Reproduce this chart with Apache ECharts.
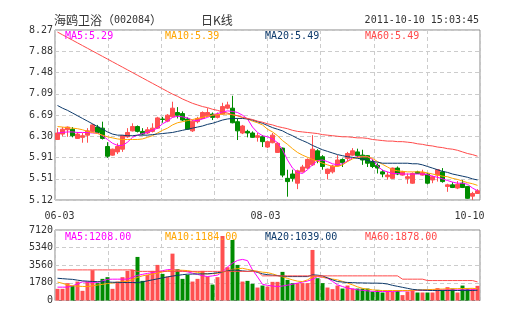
<!DOCTYPE html>
<html><head><meta charset="utf-8">
<script src="https://cdn.jsdelivr.net/npm/echarts/dist/echarts.min.js"></script>
<style>html,body{margin:0;padding:0;background:#fff}#c{width:505px;height:330px}</style>
</head><body><div id="c"></div>
<script>
const stockName = '海鸥卫浴';
const stockCode = '002084';
const chartTitle = '日K线';
const timestamp = '2011-10-10 15:03:45';

const dates = ['06-03','06-07','06-08','06-09','06-10','06-13','06-14','06-15','06-16','06-17','06-20','06-21','06-22','06-23','06-24','06-27','06-28','06-29','06-30',
'07-01','07-04','07-05','07-06','07-07','07-08','07-11','07-12','07-13','07-14','07-15','07-18','07-19','07-20','07-21','07-22','07-25','07-26','07-27','07-28','07-29',
'08-01','08-02','08-03','08-04','08-05','08-08','08-09','08-10','08-11','08-12','08-15','08-16','08-17','08-18','08-19','08-22','08-23','08-24','08-25','08-26','08-29','08-30','08-31',
'09-01','09-02','09-05','09-06','09-07','09-08','09-09','09-13','09-14','09-15','09-16','09-19','09-20','09-21','09-22','09-23','09-26','09-27','09-28','09-29','09-30',
'10-10'];
const shownDates = ['06-03','08-03','10-10'];

const openP  = [6.24,6.34,6.42,6.43,6.26,6.28,6.32,6.39,6.47,6.45,6.11,5.95,6.01,6.06,6.29,6.40,6.48,6.39,6.36,6.39,6.45,6.62,6.58,6.66,6.74,6.72,6.62,6.40,6.57,6.63,6.68,6.71,6.65,6.71,6.82,6.82,6.57,6.36,6.39,6.36,6.28,6.29,6.10,6.18,6.00,6.08,5.52,5.60,5.43,5.64,5.71,5.77,6.03,5.92,5.61,5.64,5.75,5.87,5.89,5.95,6.01,5.95,5.94,5.83,5.76,5.64,5.55,5.52,5.71,5.58,5.52,5.43,5.64,5.58,5.60,5.49,5.58,5.64,5.37,5.40,5.34,5.43,5.37,5.19,5.24];
const closeP = [6.36,6.43,6.47,6.31,6.34,6.31,6.40,6.51,6.37,6.26,5.93,6.06,6.11,6.31,6.37,6.48,6.39,6.34,6.42,6.45,6.64,6.61,6.69,6.82,6.69,6.60,6.43,6.58,6.63,6.74,6.74,6.65,6.71,6.85,6.88,6.55,6.40,6.49,6.36,6.28,6.31,6.20,6.20,6.32,6.17,5.58,5.46,5.52,5.66,5.73,5.87,6.06,5.86,5.74,5.69,5.75,5.86,5.81,5.98,6.03,5.94,5.86,5.80,5.74,5.71,5.60,5.58,5.71,5.60,5.64,5.55,5.61,5.61,5.63,5.43,5.55,5.68,5.46,5.40,5.35,5.41,5.35,5.15,5.24,5.29];
const lowP   = [6.23,6.30,6.29,6.28,6.25,6.18,6.18,6.38,6.36,6.24,5.90,5.94,5.97,6.01,6.27,6.39,6.37,6.32,6.34,6.37,6.44,6.55,6.56,6.65,6.63,6.58,6.42,6.38,6.54,6.62,6.66,6.60,6.63,6.70,6.80,6.54,6.23,6.34,6.28,6.27,6.20,6.10,6.08,6.17,5.99,5.54,5.18,5.46,5.32,5.63,5.69,5.75,5.80,5.68,5.50,5.61,5.74,5.73,5.83,5.94,5.90,5.77,5.73,5.71,5.61,5.54,5.50,5.51,5.58,5.57,5.42,5.42,5.60,5.57,5.41,5.43,5.46,5.44,5.27,5.34,5.32,5.34,5.14,5.12,5.23];
const highP  = [6.45,6.47,6.48,6.47,6.38,6.36,6.45,6.53,6.51,6.57,6.19,6.07,6.17,6.32,6.45,6.54,6.50,6.45,6.47,6.54,6.66,6.66,6.71,6.94,6.84,6.76,6.65,6.60,6.66,6.76,6.82,6.74,6.74,6.92,6.94,7.05,6.63,6.51,6.42,6.39,6.36,6.32,6.22,6.36,6.19,6.09,5.68,5.68,5.68,5.77,5.89,6.32,6.06,5.95,5.70,5.77,5.95,5.89,6.01,6.08,6.07,6.05,5.95,5.87,5.80,5.68,5.64,5.72,5.74,5.66,5.61,5.63,5.66,5.68,5.62,5.57,5.69,5.71,5.42,5.45,5.47,5.49,5.38,5.27,5.32];

const ma5  = [6.36,6.37,6.38,6.38,6.37,6.37,6.37,6.36,6.36,6.31,6.24,6.17,6.13,6.13,6.19,6.28,6.32,6.35,6.37,6.41,6.45,6.53,6.58,6.65,6.67,6.66,6.64,6.60,6.59,6.62,6.65,6.69,6.72,6.75,6.77,6.76,6.74,6.69,6.62,6.47,6.37,6.31,6.29,6.25,6.18,6.05,5.86,5.71,5.63,5.61,5.68,5.77,5.85,5.86,5.83,5.79,5.77,5.79,5.84,5.90,5.92,5.92,5.92,5.87,5.75,5.67,5.64,5.61,5.61,5.60,5.60,5.60,5.60,5.60,5.59,5.56,5.54,5.51,5.48,5.45,5.43,5.43,5.41,5.34,5.29];
const ma10 = [6.48,6.47,6.46,6.45,6.44,6.42,6.39,6.37,6.35,6.32,6.29,6.27,6.25,6.24,6.24,6.24,6.24,6.25,6.28,6.31,6.36,6.41,6.45,6.51,6.55,6.57,6.59,6.61,6.63,6.65,6.67,6.69,6.70,6.71,6.71,6.70,6.68,6.65,6.62,6.58,6.55,6.51,6.43,6.38,6.31,6.22,6.15,6.07,6.00,5.95,5.91,5.87,5.84,5.80,5.77,5.74,5.74,5.77,5.83,5.88,5.91,5.92,5.92,5.89,5.83,5.78,5.73,5.68,5.66,5.65,5.64,5.64,5.64,5.64,5.62,5.60,5.58,5.56,5.55,5.52,5.50,5.47,5.44,5.42,5.39];
const ma20 = [6.87,6.82,6.78,6.73,6.68,6.63,6.58,6.53,6.48,6.43,6.38,6.34,6.32,6.32,6.31,6.31,6.32,6.32,6.32,6.33,6.34,6.35,6.36,6.37,6.39,6.41,6.43,6.45,6.47,6.49,6.52,6.54,6.57,6.60,6.62,6.63,6.63,6.63,6.62,6.60,6.57,6.54,6.50,6.46,6.43,6.40,6.35,6.31,6.26,6.22,6.18,6.13,6.09,6.05,6.02,5.99,5.96,5.94,5.92,5.91,5.89,5.88,5.85,5.83,5.82,5.80,5.80,5.80,5.80,5.80,5.80,5.79,5.79,5.77,5.74,5.71,5.68,5.65,5.63,5.60,5.58,5.56,5.54,5.51,5.49];
const ma60 = [8.23,8.18,8.13,8.08,8.03,7.98,7.93,7.88,7.83,7.78,7.73,7.68,7.63,7.58,7.53,7.48,7.43,7.38,7.33,7.28,7.23,7.18,7.13,7.08,7.04,6.99,6.95,6.91,6.88,6.85,6.83,6.80,6.78,6.75,6.73,6.70,6.68,6.65,6.63,6.61,6.58,6.56,6.53,6.51,6.48,6.46,6.44,6.41,6.39,6.38,6.37,6.36,6.35,6.33,6.32,6.31,6.30,6.29,6.29,6.28,6.27,6.27,6.26,6.24,6.23,6.22,6.21,6.21,6.20,6.20,6.19,6.18,6.16,6.15,6.13,6.12,6.10,6.09,6.07,6.06,6.04,6.01,5.98,5.96,5.93];

const volume = [1178,1178,1752,1480,1913,977,1913,3061,1752,2185,2356,1178,1913,2356,2991,3091,4400,1984,2588,2991,3595,2689,2417,4733,3162,2185,2588,1913,2185,2991,2417,1611,2356,6515,3363,6112,3595,1913,1984,1682,1309,1510,1410,1883,1883,2890,2084,1752,1752,1752,1752,5106,2255,1752,1309,1148,1510,1208,1510,1208,1208,1208,1208,906,1077,806,1007,906,1007,544,906,1077,806,806,806,806,1249,1077,1349,1208,806,1510,1208,1208,1480];
const vma5  = [1349,1349,1349,1480,1682,1883,1853,1833,1833,1984,2135,2155,2155,2155,2165,2336,2538,2638,2739,2810,2910,3011,3112,3142,3061,2991,2890,2769,2638,2507,2417,2487,2568,2890,3394,3766,4048,4149,4028,3091,2387,1631,1531,1460,1410,1460,1551,1651,1752,1863,1964,2135,2417,2336,2256,1933,1581,1410,1249,1178,1077,1027,977,926,906,906,906,916,937,957,977,997,1007,1027,1047,1067,1077,1077,1077,1077,1077,1077,1077,1077,1208];
const vma10 = [1863,1732,1581,1480,1450,1420,1410,1480,1561,1631,1712,1782,1833,1883,1933,2105,2336,2487,2588,2669,2769,2880,3011,3091,3071,3051,3021,2920,2840,2739,2689,2709,2739,2840,2991,3142,3212,3253,3142,3041,2940,2860,2820,2689,2528,2387,2236,2084,1954,1913,2084,2387,2457,2356,2256,2165,2084,1933,1752,1581,1380,1229,1148,1077,1027,1007,1007,1007,1007,1007,1007,1027,1047,1077,1098,1118,1138,1158,1178,1188,1198,1208,1218,1229,1184];
const vma20 = [2246,2205,2165,2135,2054,1984,1954,1923,1903,1883,1863,1843,1833,1823,1813,1813,1813,1883,1984,2084,2185,2286,2387,2467,2538,2608,2658,2669,2679,2689,2689,2739,2810,2890,2991,3091,3041,2991,2940,2991,2840,2689,2608,2558,2507,2467,2417,2417,2417,2417,2417,2588,2558,2487,2286,2084,1913,1863,1823,1803,1782,1772,1762,1752,1752,1732,1662,1531,1430,1329,1229,1128,1077,1047,1027,1007,1007,1007,1007,1007,1007,1007,1007,1007,1039];
const vma60 = [3091,3091,3091,3091,3091,3091,3091,3091,3091,3091,3091,3091,3091,3091,3091,3091,2940,2940,2940,2940,2940,2940,2940,2940,2940,2940,2940,2940,2940,2940,2940,2940,2940,2940,2940,2940,2940,2940,2940,2940,2940,2487,2487,2487,2487,2487,2487,2487,2487,2487,2487,2487,2487,2487,2487,2487,2487,2487,2487,2487,2487,2487,2487,2487,2487,2487,2487,2487,2487,2155,2155,2155,2155,2155,2014,2014,2014,2014,2014,2014,2014,2014,2014,2014,1878];

const priceTickLabels = ['5.12','5.51','5.91','6.30','6.69','7.09','7.48','7.88','8.27'];
const volTickLabels = ['0','1780','3560','5340','7120'];
const priceMaLabels = ['MA5:5.29','MA10:5.39','MA20:5.49','MA60:5.49'];
const volMaLabels = ['MA5:1208.00','MA10:1184.00','MA20:1039.00','MA60:1878.00'];

const UP = '#ff5050', DOWN = '#008c00';
const MA_COLORS = ['#ff00ff','#ffa500','#0d3a6b','#ff4a4a'];
const MONO = '"DejaVu Sans Mono", monospace';
const CJK = '"Noto Sans CJK SC", sans-serif';
const TXT = '#333';

const P_MIN = 5.11875, P_STEP = 0.39375, P_MAX = 8.26875;
const V_STEP = 1780;

const candleData = dates.map((d, i) => [openP[i], closeP[i], lowP[i], highP[i]]);
const volData = volume.map((v, i) => ({ value: v, itemStyle: { color: closeP[i] >= openP[i] ? UP : DOWN } }));

const gridLine = { show: true, lineStyle: { color: '#cccccc', type: [4, 3], width: 1 } };

function maLine(data, xi, yi, color) {
  return { type: 'line', data: data, xAxisIndex: xi, yAxisIndex: yi, symbol: 'none', smooth: false,
    lineStyle: { color: color, width: 1 }, itemStyle: { color: color }, z: 3, silent: true };
}

const graphics = [];
graphics.push({ type: 'text', x: 54, y: 20, style: {
  text: '{a|' + stockName + '（}{b|' + stockCode + '}{a|）}', verticalAlign: 'middle', align: 'left',
  rich: { a: { fontFamily: CJK, fontSize: 12, fill: TXT }, b: { fontFamily: MONO, fontSize: 10, fill: TXT } } } });
graphics.push({ type: 'text', x: 201, y: 20, style: { text: chartTitle, font: '12px ' + CJK, fill: TXT, verticalAlign: 'middle', align: 'left' } });
graphics.push({ type: 'text', x: 479, y: 20, style: { text: timestamp, font: '10px ' + MONO, fill: TXT, verticalAlign: 'middle', align: 'right' } });
priceMaLabels.forEach((t, k) => graphics.push({ type: 'text', x: 65 + 100 * k, y: 36, z: 10,
  style: { text: t, font: '10px ' + MONO, fill: MA_COLORS[k], verticalAlign: 'middle', align: 'left' } }));
volMaLabels.forEach((t, k) => graphics.push({ type: 'text', x: 65 + 100 * k, y: 237, z: 10,
  style: { text: t, font: '10px ' + MONO, fill: MA_COLORS[k], verticalAlign: 'middle', align: 'left' } }));

const option = {
  animation: false,
  backgroundColor: '#fff',
  grid: [
    { left: 55, top: 30, width: 425, height: 170, show: true, borderColor: '#888', borderWidth: 1, containLabel: false, outerBoundsMode: 'none' },
    { left: 55, top: 230, width: 425, height: 70.5, show: true, borderColor: '#888', borderWidth: 1, containLabel: false, outerBoundsMode: 'none' }
  ],
  xAxis: [
    { type: 'category', gridIndex: 0, data: dates, boundaryGap: true,
      axisLine: { show: false }, axisTick: { show: false }, splitLine: { show: false },
      axisLabel: { show: true, margin: 11, color: TXT, fontFamily: MONO, fontSize: 10, hideOverlap: false,
        interval: (i, v) => shownDates.indexOf(v) >= 0,
        formatter: (v) => v === shownDates[0] ? '{f|' + v + '}' : (v === shownDates[2] ? '{l|' + v + '}' : '{m|' + v + '}'),
        rich: { f: { padding: [0, 0, 0, 4], fontFamily: MONO, fontSize: 10, color: TXT },
                m: { padding: [0, 4, 0, 0], fontFamily: MONO, fontSize: 10, color: TXT },
                l: { padding: [0, 16, 0, 0], fontFamily: MONO, fontSize: 10, color: TXT } } } },
    { type: 'category', gridIndex: 1, data: dates, boundaryGap: true,
      axisLine: { show: false }, axisTick: { show: false }, axisLabel: { show: false }, splitLine: { show: false } },
    { type: 'value', gridIndex: 0, min: 0, max: 8, interval: 1, axisLine: { show: false }, axisTick: { show: false },
      axisLabel: { show: false }, splitLine: gridLine },
    { type: 'value', gridIndex: 1, min: 0, max: 8, interval: 1, axisLine: { show: false }, axisTick: { show: false },
      axisLabel: { show: false }, splitLine: gridLine }
  ],
  yAxis: [
    { type: 'value', gridIndex: 0, min: P_MIN, max: P_MAX, interval: P_STEP, scale: true,
      axisLine: { show: false }, axisTick: { show: false }, splitLine: gridLine,
      axisLabel: { margin: 2, color: TXT, fontFamily: MONO, fontSize: 10,
        formatter: (v) => priceTickLabels[Math.round((v - P_MIN) / P_STEP)] } },
    { type: 'value', gridIndex: 1, min: 0, max: 7120, interval: V_STEP,
      axisLine: { show: false }, axisTick: { show: false }, splitLine: gridLine,
      axisLabel: { margin: 2, color: TXT, fontFamily: MONO, fontSize: 10,
        formatter: (v) => volTickLabels[Math.round(v / V_STEP)] } }
  ],
  series: [
    { type: 'candlestick', xAxisIndex: 0, yAxisIndex: 0, data: candleData, barWidth: 4, z: 2,
      itemStyle: { color: UP, color0: DOWN, borderColor: UP, borderColor0: DOWN, borderWidth: 1 } },
    maLine(ma5, 0, 0, MA_COLORS[0]),
    maLine(ma10, 0, 0, MA_COLORS[1]),
    maLine(ma20, 0, 0, MA_COLORS[2]),
    maLine(ma60, 0, 0, MA_COLORS[3]),
    { type: 'bar', xAxisIndex: 1, yAxisIndex: 1, data: volData, barWidth: 4, z: 2 },
    maLine(vma5, 1, 1, MA_COLORS[0]),
    maLine(vma10, 1, 1, MA_COLORS[1]),
    maLine(vma20, 1, 1, MA_COLORS[2]),
    maLine(vma60, 1, 1, MA_COLORS[3])
  ],
  graphic: graphics
};

const chart = echarts.init(document.getElementById('c'), null, { renderer: 'canvas' });
chart.setOption(option);
</script>
</body></html>
